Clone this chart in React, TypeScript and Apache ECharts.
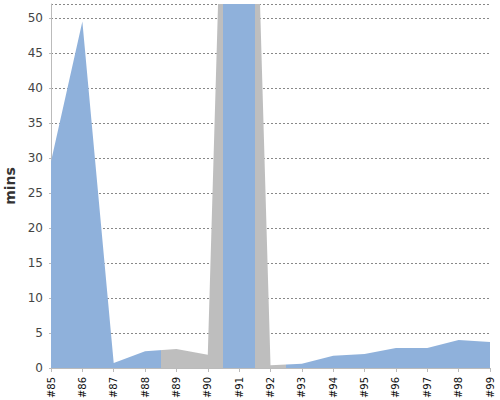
import React, { useEffect, useRef } from "react";
import * as echarts from "echarts";

const builds = ["#85", "#86", "#87", "#88", "#89", "#90", "#91", "#92", "#93", "#94", "#95", "#96", "#97", "#98", "#99"];
const durations = [29.5, 49.5, 0.7, 2.4, 2.7, 1.9, 155, 0.4, 0.6, 1.75, 2.0, 2.85, 2.85, 4.0, 3.7];
const statuses = ["success", "success", "success", "success", "aborted", "aborted", "success", "aborted", "success", "success", "success", "success", "success", "success", "success"];
const yTicks = { min: 0, max: 52, interval: 5 };

const statusColors: Record<string, string> = {
  success: "#8FB1DB",
  aborted: "#BEBEBE",
};

export default function App() {
  const ref = useRef<HTMLDivElement>(null);
  useEffect(() => {
    if (!ref.current) return;
    const chart = echarts.init(ref.current, null, { renderer: "svg" });
    const pieces = statuses.map((s, i) => ({
      gte: i === 0 ? -100 : i - 0.5,
      lt: i === statuses.length - 1 ? 100 : i + 0.5,
      color: statusColors[s],
    }));
    chart.setOption({
      animation: false,
      grid: { left: 51, right: 10, top: 4, bottom: 32, outerBoundsMode: "none", containLabel: false },
      visualMap: {
        type: "piecewise",
        show: false,
        dimension: 0,
        seriesIndex: 0,
        pieces,
      },
      xAxis: {
        type: "value",
        min: 0,
        max: builds.length - 1,
        interval: 1,
        offset: 4,
        axisLine: { lineStyle: { color: "#BBBBBB" } },
        axisTick: { show: true, length: 4, lineStyle: { color: "#BBBBBB" } },
        axisLabel: {
          rotate: 90,
          color: "#111",
          fontSize: 10,
          fontFamily: "DejaVu Sans",
          margin: 5,
          showMinLabel: true,
          showMaxLabel: true,
          formatter: (v: number) => builds[Math.round(v)] ?? "",
        },
        splitLine: { show: false },
      },
      yAxis: {
        type: "value",
        min: yTicks.min,
        max: yTicks.max,
        interval: yTicks.interval,
        offset: 3,
        name: "mins",
        nameLocation: "middle",
        nameGap: 30,
        nameTextStyle: { fontSize: 14, fontWeight: "bold", color: "#333", fontFamily: "DejaVu Sans" },
        axisLine: { show: true, lineStyle: { color: "#BBBBBB" } },
        axisTick: { show: true, length: 2, lineStyle: { color: "#BBBBBB" } },
        axisLabel: {
          color: "#444",
          fontSize: 12,
          fontFamily: "DejaVu Sans",
          margin: 5,
          showMaxLabel: false,
        },
        splitLine: { show: true, lineStyle: { color: "#888", type: [2, 2], width: 1 } },
      },
      series: [
        {
          type: "line",
          data: durations.map((d, i) => [i, d]),
          showSymbol: false,
          symbol: "none",
          lineStyle: { width: 0, opacity: 0 },
          areaStyle: { opacity: 1 },
          clip: true,
        },
      ],
    });
    return () => chart.dispose();
  }, []);
  return <div ref={ref} style={{ position: "absolute", left: 0, top: 0, width: 500, height: 400 }} />;
}
